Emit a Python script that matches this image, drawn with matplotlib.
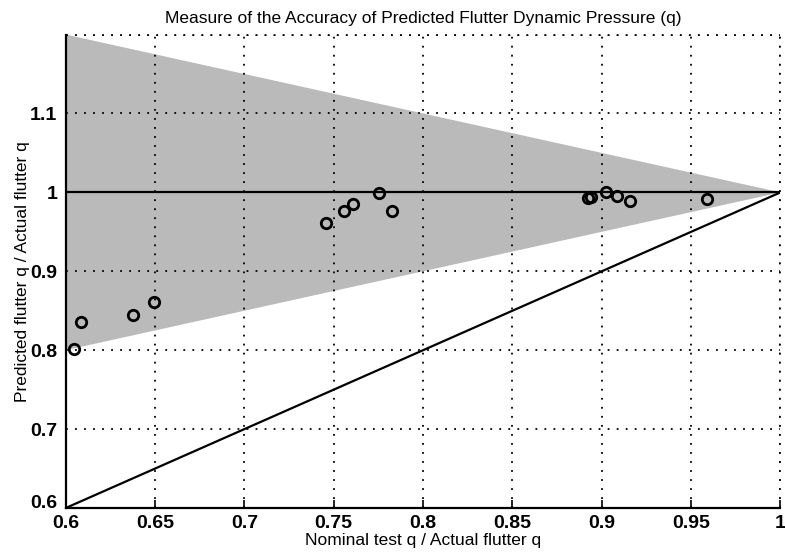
import matplotlib
matplotlib.use('Agg')
import matplotlib.pyplot as plt
import numpy as np

# nominal test q / actual flutter q
nominal = [0.6046, 0.6087, 0.6378, 0.6492, 0.7458, 0.7555, 0.7607, 0.7752, 0.7825,
           0.8925, 0.8941, 0.9026, 0.9084, 0.9158, 0.9590]
# predicted flutter q / actual flutter q
predicted = [0.801, 0.836, 0.844, 0.861, 0.961, 0.977, 0.985, 0.999, 0.976,
             0.993, 0.994, 1.000, 0.995, 0.989, 0.991]

band_x = [0.6, 1.0, 0.6]
band_y = [1.2, 1.0, 0.8]

xticks = [0.6, 0.65, 0.7, 0.75, 0.8, 0.85, 0.9, 0.95, 1]
xlabels = ['0.6', '0.65', '0.7', '0.75', '0.8', '0.85', '0.9', '0.95', '1']
yticks = [0.6, 0.7, 0.8, 0.9, 1.0, 1.1]
ylabels = ['0.6', '0.7', '0.8', '0.9', '1', '1.1']

plt.rcParams['font.family'] = ['Liberation Sans', 'DejaVu Sans']

fig = plt.figure(figsize=(7.85, 5.59), dpi=100)
ax = fig.add_axes([0.0837, 0.0912, 0.9105, 0.847])

ax.fill(band_x, band_y, facecolor='#bababa', edgecolor='none', zorder=1)

ax.plot([0.6, 1.0], [0.6, 1.0], color='black', linewidth=1.6, zorder=3)
ax.axhline(1.0, color='black', linewidth=1.6, zorder=3)

ax.plot(nominal, predicted, linestyle='none', marker='o', markersize=7.5,
        markerfacecolor='none', markeredgecolor='black', markeredgewidth=2, zorder=4)

ax.set_xlim(0.6, 1.0)
ax.set_ylim(0.6, 1.2)
ax.set_xticks(xticks)
ax.set_xticklabels(xlabels)
ax.set_yticks(yticks + [1.2])
ax.set_yticklabels(ylabels + [''])

ax.grid(True, color='black', linestyle=(0, (1, 4)), linewidth=1.3, zorder=2)
ax.set_axisbelow(False)
for s in ['top', 'right']:
    ax.spines[s].set_visible(False)
for s in ['left', 'bottom']:
    ax.spines[s].set_linewidth(1.6)

# dotted frame on top/right like the grid
ax.plot([0.6, 1.0], [1.2, 1.2], color='black', linestyle=(0, (1, 4)), linewidth=1.3, clip_on=False)
ax.plot([1.0, 1.0], [0.6, 1.2], color='black', linestyle=(0, (1, 4)), linewidth=1.3, clip_on=False)

ax.tick_params(direction='in', length=6, width=1.2, labelsize=14, pad=5)
ax.tick_params(axis='y', length=0, pad=6)
for lab in ax.get_xticklabels() + ax.get_yticklabels():
    lab.set_fontweight('bold')
ax.get_yticklabels()[0].set_verticalalignment('baseline')

ax.set_title('Measure of the Accuracy of Predicted Flutter Dynamic Pressure (q)',
             fontsize=12.5, pad=8)
ax.set_xlabel('Nominal test q / Actual flutter q', fontsize=12.5, labelpad=1)
ax.set_ylabel('Predicted flutter q / Actual flutter q', fontsize=12.5, labelpad=0)

fig.savefig('out.png', dpi=100)
